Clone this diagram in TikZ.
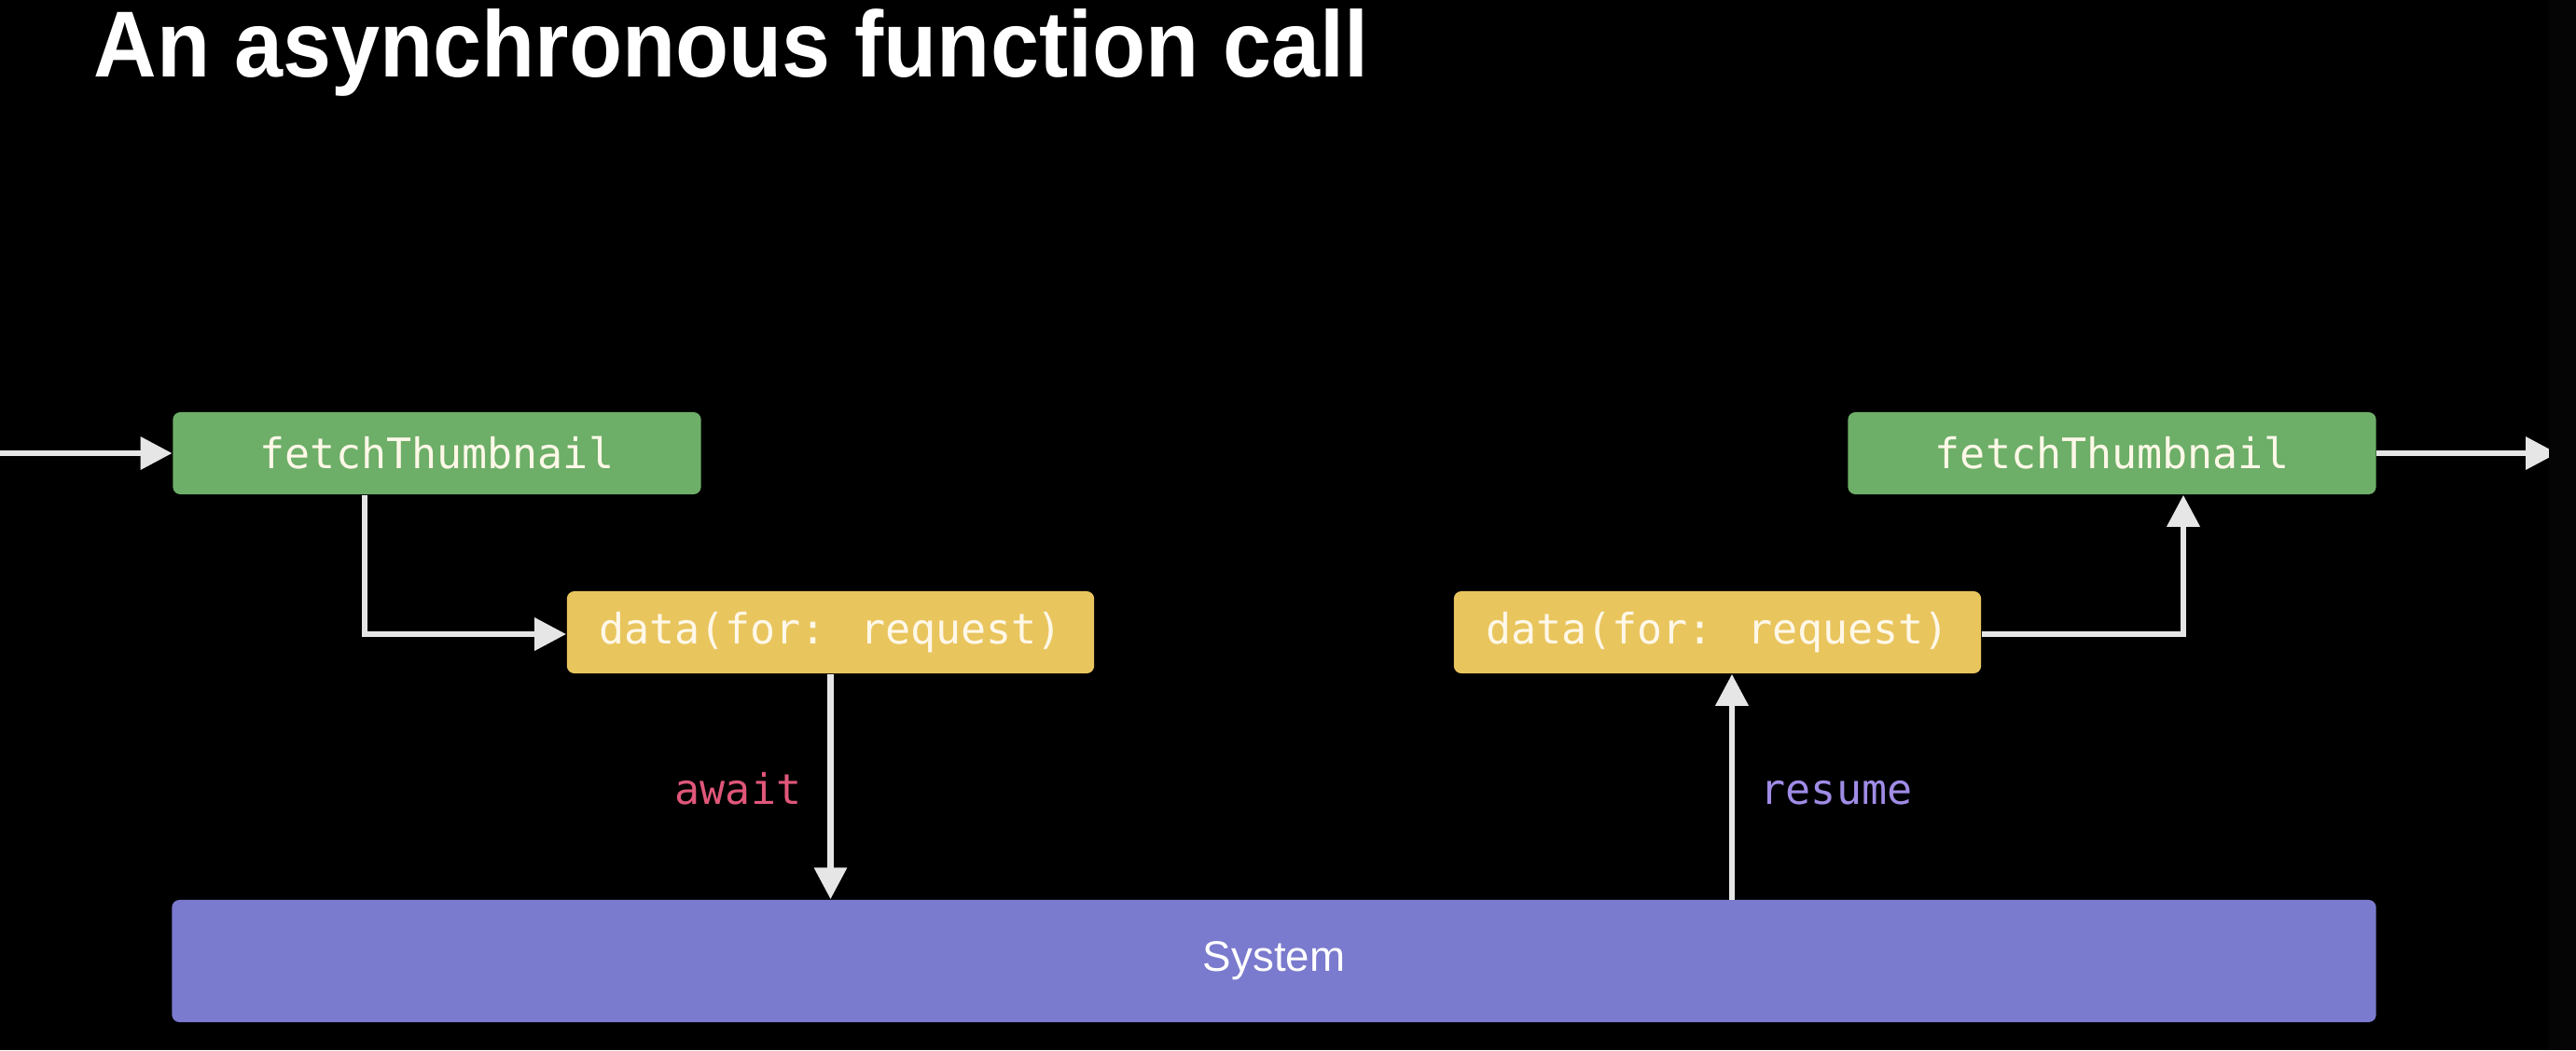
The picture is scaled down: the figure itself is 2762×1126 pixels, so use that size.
\documentclass[tikz,border=0pt]{standalone}
\usepackage{fontspec}
\setmainfont{Liberation Sans}
\newfontfamily\codefont{DejaVu Sans Mono}
\usetikzlibrary{arrows.meta}
\definecolor{boxgreen}{HTML}{6DAE68}
\definecolor{boxyellow}{HTML}{E9C55E}
\definecolor{boxpurple}{HTML}{7A7ACE}
\definecolor{awaitpink}{HTML}{E0577A}
\definecolor{resumepurple}{HTML}{A08CE6}
\definecolor{arrowgray}{HTML}{E6E6E6}
\definecolor{boxtext}{HTML}{FFF8E8}
\definecolor{edgestrip}{HTML}{050505}
\tikzset{
  px/.style={x=0.01cm,y=-0.01cm},
  codebox/.style={rounded corners=0.08cm, inner sep=0pt, text=boxtext,
    font=\codefont\fontsize{12.8pt}{15pt}\selectfont},
  greenbox/.style={codebox, fill=boxgreen, minimum width=5.66cm, minimum height=0.88cm},
  yellowbox/.style={codebox, fill=boxyellow, minimum width=5.65cm, minimum height=0.88cm},
  sysbox/.style={rounded corners=0.08cm, fill=boxpurple, text=white, minimum width=23.62cm,
    minimum height=1.31cm, font=\fontsize{13pt}{15pt}\selectfont},
  flow/.style={draw=arrowgray, line width=1.9pt, -{Triangle[length=0.34cm,width=0.34cm]}},
  lbl/.style={font=\codefont\fontsize{12.8pt}{15pt}\selectfont, inner sep=0pt}
}
\begin{document}
\begin{tikzpicture}[px]
\fill[black] (0,0) rectangle (2762,1126);
\useasboundingbox (0,0) rectangle (2762,1126);
\node[anchor=base west, inner sep=0pt, text=white, font=\bfseries\fontsize{28.6pt}{32pt}\selectfont] (title) at (100,82) {\scalebox{0.93}[1]{An asynchronous function call}};
\node[greenbox] (g1) at (468.5,486) {fetchThumbnail};
\node[yellowbox] (y1) at (890.5,678) {data(for: request)};
\node[yellowbox] (y2) at (1841.5,678) {data(for: request)};
\node[greenbox] (g2) at (2264.5,486) {fetchThumbnail};
\node[sysbox] (sys) at (1366,1030.5) {System};
\coordinate (in) at (0,486);
\coordinate (out) at (2742,486);
\coordinate (e1) at (391,680);
\coordinate (e2) at (2341,680);
\coordinate (rs) at (1857,965);
\draw[flow] (in) -- (g1.west);
\draw[flow] (g1.south -| e1) -- (e1) -- (y1.west |- e1);
\draw[flow] (y1.south) -- (y1.south |- sys.north);
\draw[flow] (rs) -- (rs |- y2.south);
\draw[flow] (y2.east |- e2) -- (e2) -- (e2 |- g2.south);
\draw[flow] (g2.east) -- (out);
\fill[edgestrip] (2733,0) rectangle (2762,1126);
\node[lbl, anchor=base east, text=awaitpink] (aw) at (860,862) {await};
\node[lbl, anchor=base west, text=resumepurple] (rsm) at (1887,862) {resume};
\end{tikzpicture}
\end{document}
